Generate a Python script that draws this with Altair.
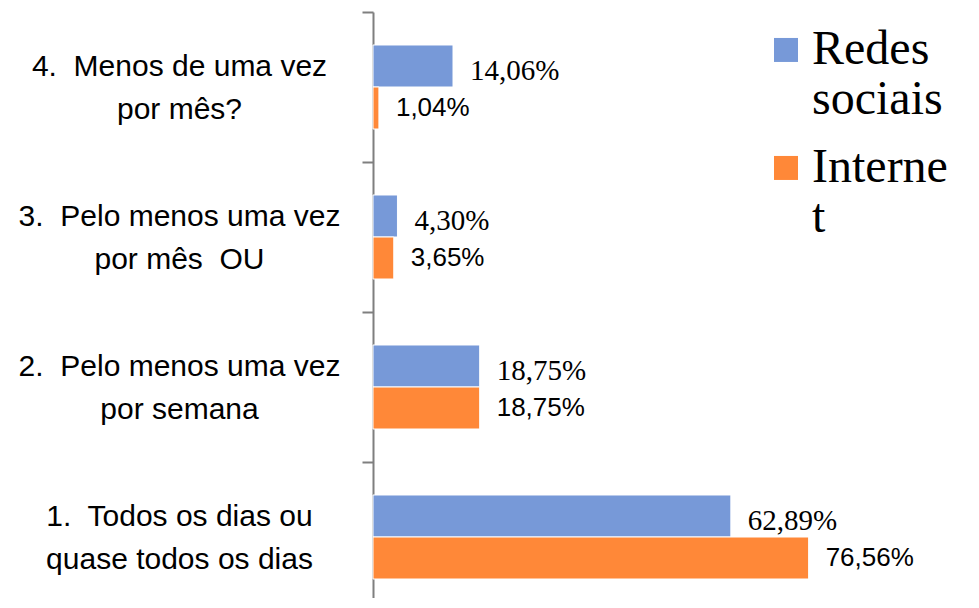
import altair as alt
import pandas as pd

NB = "\u00a0"
categories = [
    f"4.{NB} Menos de uma vez|por mês?",
    f"3.{NB} Pelo menos uma vez|por mês{NB} OU",
    f"2.{NB} Pelo menos uma vez|por semana",
    f"1.{NB} Todos os dias ou|quase todos os dias",
]
series = ["Redes sociais", "Internet"]
redes_sociais = [14.06, 4.30, 18.75, 62.89]
internet = [1.04, 3.65, 18.75, 76.56]
colors = ["#7799D8", "#FF8838"]

rows = []
for c, r, i in zip(categories, redes_sociais, internet):
    rows.append({"cat": c, "serie": series[0], "v": r})
    rows.append({"cat": c, "serie": series[1], "v": i})
df = pd.DataFrame(rows)

y_enc = alt.Y(
    "cat:N",
    sort=categories,
    scale=alt.Scale(paddingInner=0, paddingOuter=0),
    axis=alt.Axis(
        title=None,
        labelExpr="split(datum.label, '|')",
        labelFont="Liberation Sans",
        labelFontSize=30,
        labelLineHeight=43,
        labelColor="#000000",
        labelAlign="center",
        labelBaseline="middle",
        labelOffset=-21,
        labelPadding=183,
        labelLimit=0,
        tickBand="extent",
        tickSize=11,
        tickWidth=2,
        tickColor="#7F7F7F",
        domainColor="#7F7F7F",
        domainWidth=2,
        grid=False,
    ),
)
yoff = alt.YOffset(
    "serie:N", sort=series, scale=alt.Scale(paddingInner=0, paddingOuter=0.7857)
)
x_enc = alt.X("v:Q", scale=alt.Scale(domain=[0, 100], nice=False), axis=None)

bars = alt.Chart(df).mark_bar(stroke="#FFFFFF", strokeWidth=1).encode(
    x=x_enc,
    y=y_enc,
    yOffset=yoff,
    color=alt.Color(
        "serie:N",
        sort=series,
        scale=alt.Scale(domain=series, range=colors),
        legend=alt.Legend(
            title=None,
            orient="none",
            legendX=389,
            legendY=28,
            padding=0,
            symbolType="M-1,-2.17H1V-0.17H-1Z",
            symbolSize=576,
            symbolStrokeWidth=0,
            symbolOpacity=1,
            labelFont="Liberation Serif",
            labelFontSize=48,
            labelColor="#000000",
            labelOffset=2,
            labelLimit=0,
            labelBaseline="alphabetic",
            rowPadding=20,
            labelExpr="datum.label == 'Redes sociais' ? ['Redes', 'sociais'] : ['Interne', 't']",
        ),
    ),
)

base_text = alt.Chart(df).transform_calculate(
    lbl="replace(format(datum.v, '.2f'), '.', ',') + '%'"
)

blue_text = base_text.transform_filter(alt.datum.serie == series[0]).mark_text(
    align="left", baseline="middle", dx=17, dy=5, font="Liberation Serif", fontSize=29, color="#000000"
).encode(x=x_enc, y=alt.Y("cat:N", sort=categories), yOffset=yoff, text="lbl:N")

orange_text = base_text.transform_filter(alt.datum.serie == series[1]).mark_text(
    align="left", baseline="middle", dx=17, dy=0, font="Liberation Sans", fontSize=26, color="#000000"
).encode(x=x_enc, y=alt.Y("cat:N", sort=categories), yOffset=yoff, text="lbl:N")

chart = (
    alt.layer(bars, blue_text, orange_text)
    .properties(
        width=569,
        height=600,
        autosize=alt.AutoSizeParams(type="none"),
        padding={"left": 365, "top": 4, "right": 25, "bottom": -14},
    )
    .configure(background="#FFFFFF")
    .configure_view(strokeWidth=0, stroke="transparent")
)

chart.save("out.html", embed_options={"renderer": "svg", "actions": False})
